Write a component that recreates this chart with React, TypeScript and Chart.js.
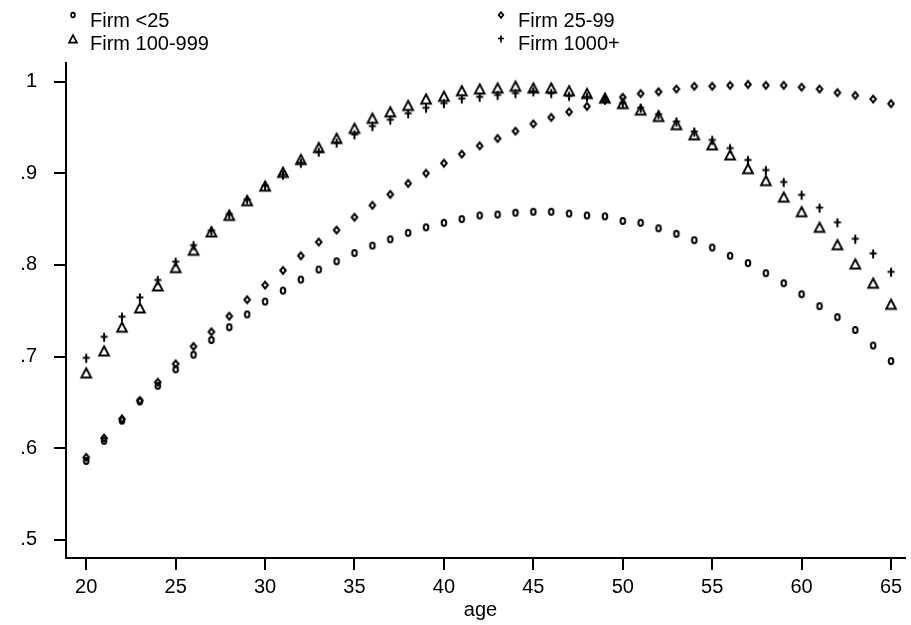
import React, { useEffect, useRef } from "react";
import { Chart, registerables } from "chart.js";

Chart.register(...registerables);

const ages = [20,21,22,23,24,25,26,27,28,29,30,31,32,33,34,35,36,37,38,39,40,41,42,43,44,45,46,47,48,49,50,51,52,53,54,55,56,57,58,59,60,61,62,63,64,65];

const firmLt25 = [0.586,0.608,0.630,0.651,0.668,0.686,0.702,0.718,0.732,0.746,0.760,0.772,0.784,0.795,0.804,0.813,0.821,0.828,0.835,0.841,0.846,0.850,0.854,0.855,0.857,0.858,0.858,0.856,0.854,0.853,0.848,0.846,0.840,0.834,0.827,0.819,0.810,0.802,0.791,0.780,0.768,0.755,0.743,0.729,0.712,0.695];

const firm25to99 = [0.590,0.611,0.632,0.652,0.672,0.692,0.711,0.727,0.744,0.762,0.778,0.794,0.810,0.825,0.838,0.852,0.865,0.877,0.889,0.900,0.911,0.921,0.930,0.938,0.946,0.954,0.961,0.967,0.973,0.980,0.983,0.987,0.989,0.992,0.995,0.995,0.996,0.997,0.996,0.996,0.994,0.992,0.988,0.985,0.981,0.976];

const firm100to999 = [0.682,0.706,0.732,0.753,0.777,0.797,0.816,0.836,0.854,0.870,0.886,0.901,0.915,0.928,0.938,0.949,0.960,0.967,0.974,0.981,0.984,0.990,0.992,0.993,0.995,0.993,0.993,0.990,0.987,0.982,0.976,0.969,0.962,0.953,0.942,0.931,0.920,0.905,0.892,0.874,0.858,0.841,0.822,0.801,0.780,0.757];

const firm1000plus = [0.698,0.721,0.743,0.764,0.783,0.803,0.821,0.837,0.855,0.871,0.886,0.898,0.911,0.923,0.933,0.942,0.951,0.958,0.965,0.971,0.976,0.981,0.983,0.985,0.987,0.989,0.987,0.984,0.983,0.980,0.976,0.971,0.964,0.956,0.945,0.936,0.927,0.914,0.903,0.890,0.876,0.862,0.846,0.828,0.812,0.792];

const seriesNames = ["Firm <25", "Firm 25-99", "Firm 100-999", "Firm 1000+"];
const seriesMarkers = ["circle", "diamond", "triangle", "plus"];
const xTickValues = [20, 25, 30, 35, 40, 45, 50, 55, 60, 65];
const yTickValues = [0.5, 0.6, 0.7, 0.8, 0.9, 1];
const yTickLabels = [".5", ".6", ".7", ".8", ".9", "1"];
const xTitle = "age";

const FONT = '"Liberation Sans", Arial, sans-serif';

function makeMarker(kind: string, s: number, lw: number): HTMLCanvasElement {
  const c = document.createElement("canvas");
  const size = 18;
  c.width = size;
  c.height = size;
  const g = c.getContext("2d")!;
  g.strokeStyle = "#000";
  g.lineWidth = lw;
  g.lineJoin = "miter";
  const m = size / 2;
  g.beginPath();
  if (kind === "circle") {
    g.ellipse(m, m, 2.3 * s, 2.9 * s, 0, 0, Math.PI * 2);
  } else if (kind === "diamond") {
    g.moveTo(m, m - 3.4 * s);
    g.lineTo(m + 2.8 * s, m);
    g.lineTo(m, m + 3.4 * s);
    g.lineTo(m - 2.8 * s, m);
    g.closePath();
  } else if (kind === "triangle") {
    g.moveTo(m, m - 4.7 * s);
    g.lineTo(m + 4.8 * s, m + 4.4 * s);
    g.lineTo(m - 4.8 * s, m + 4.4 * s);
    g.closePath();
  } else {
    g.moveTo(m, m - 4.4 * s);
    g.lineTo(m, m + 4.4 * s);
    g.moveTo(m - 3.5 * s, m - 0.6 * s);
    g.lineTo(m + 3.5 * s, m - 0.6 * s);
  }
  g.stroke();
  return c;
}

export default function App() {
  const ref = useRef<HTMLCanvasElement | null>(null);

  useEffect(() => {
    if (!ref.current) return;
    const markers = seriesMarkers.map((k) => makeMarker(k, 1, 2));
    const legendMarkers = seriesMarkers.map((k) => makeMarker(k, 0.82, 1.7));
    const values = [firmLt25, firm25to99, firm100to999, firm1000plus];

    const overlay = {
      id: "overlay",
      afterDraw(chart: any) {
        const ctx = chart.ctx as CanvasRenderingContext2D;
        ctx.save();
        ctx.fillStyle = "#000";
        ctx.font = `20px ${FONT}`;
        ctx.textBaseline = "alphabetic";
        ctx.textAlign = "left";
        const cols = [73, 501];
        const rows = [15, 39];
        const baselines = [27, 50];
        seriesNames.forEach((name, i) => {
          const col = i % 2;
          const row = Math.floor(i / 2);
          const img = legendMarkers[i];
          ctx.drawImage(img, cols[col] - img.width / 2, rows[row] - img.height / 2);
          ctx.fillText(name, cols[col] + 17, baselines[row]);
        });
        ctx.textAlign = "center";
        ctx.fillText(xTitle, 480.5, 616);
        ctx.restore();
      },
    };

    const chart = new Chart(ref.current, {
      type: "scatter",
      data: {
        datasets: values.map((vals, i) => ({
          label: seriesNames[i],
          data: ages.map((a, j) => ({ x: a, y: vals[j] })),
          pointStyle: markers[i] as any,
          pointRadius: 5,
          showLine: false,
          borderColor: "#000",
          backgroundColor: "rgba(0,0,0,0)",
        })),
      },
      options: {
        responsive: false,
        animation: false,
        events: [],
        layout: { padding: { top: 63, right: 1, left: 0, bottom: 0 } },
        plugins: {
          legend: { display: false },
          tooltip: { enabled: false },
          title: { display: false },
        },
        scales: {
          x: {
            type: "linear",
            min: 18.87,
            max: 65.78,
            afterFit: (s: any) => {
              s.height = 67;
            },
            afterBuildTicks: (s: any) => {
              s.ticks = xTickValues.map((v) => ({ value: v }));
            },
            ticks: {
              color: "#000",
              font: { family: FONT, size: 20 },
              padding: 5,
              maxRotation: 0,
              callback: (v: any) => String(v),
            },
            grid: {
              display: true,
              drawOnChartArea: false,
              drawTicks: true,
              tickLength: 12,
              color: "#000",
              lineWidth: 2,
            },
            border: { display: true, color: "#000", width: 2 },
          },
          y: {
            type: "linear",
            min: 0.4801,
            max: 1.0204,
            afterFit: (s: any) => {
              s.width = 66;
            },
            afterBuildTicks: (s: any) => {
              s.ticks = yTickValues.map((v) => ({ value: v }));
            },
            ticks: {
              color: "#000",
              font: { family: FONT, size: 20 },
              padding: 17,
              callback: (v: any) => {
                const idx = yTickValues.findIndex((t) => Math.abs(t - v) < 1e-6);
                return idx >= 0 ? yTickLabels[idx] : "";
              },
            },
            grid: {
              display: true,
              drawOnChartArea: false,
              drawTicks: true,
              tickLength: 12,
              color: "#000",
              lineWidth: 2,
            },
            border: { display: true, color: "#000", width: 2 },
          },
        },
      },
      plugins: [overlay],
    } as any);

    return () => {
      chart.destroy();
    };
  }, []);

  return (
    <div style={{ position: "absolute", left: 0, top: 0, width: 911, height: 625, background: "#fff" }}>
      <canvas ref={ref} width={911} height={625} style={{ display: "block" }} />
    </div>
  );
}
